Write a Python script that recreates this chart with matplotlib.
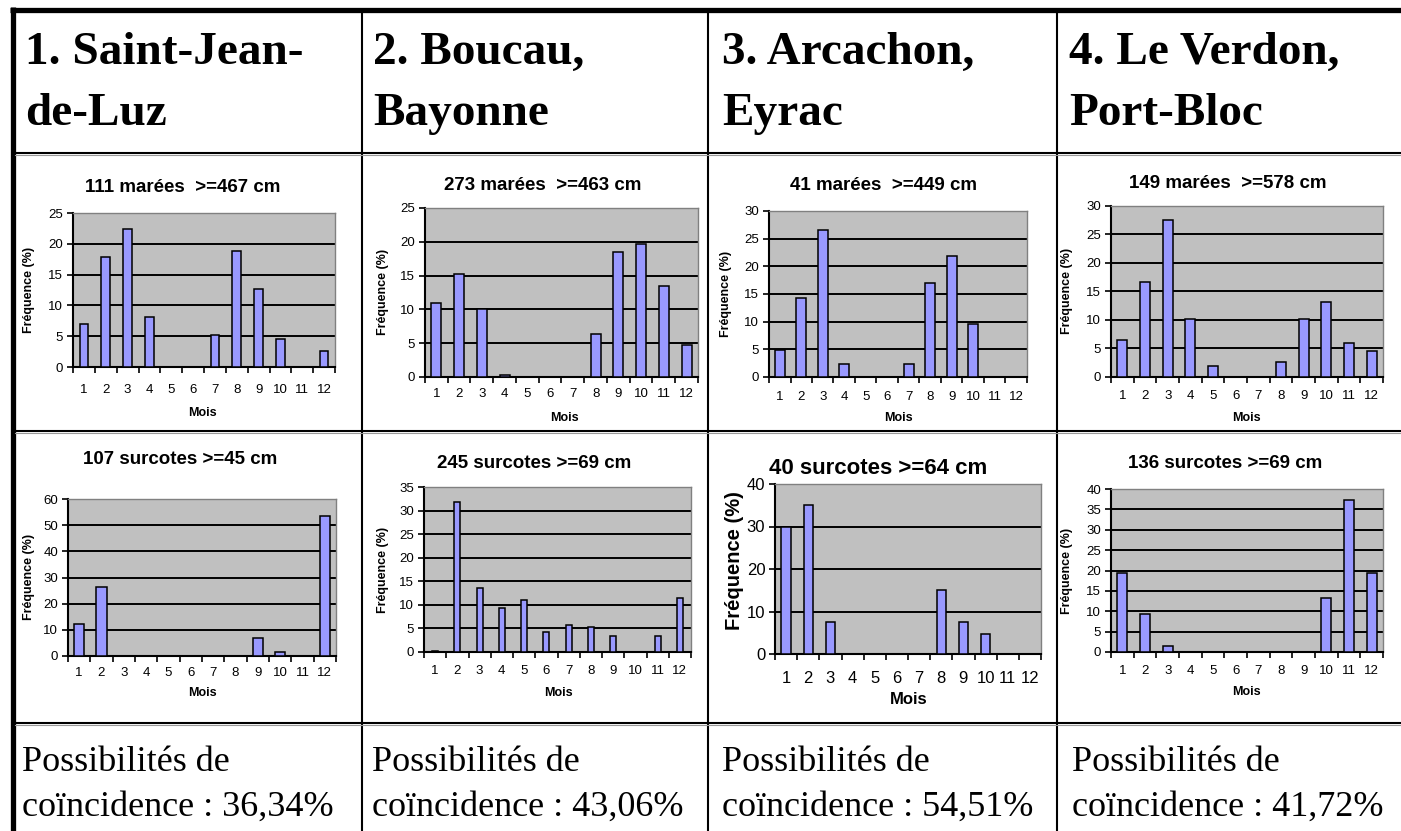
import matplotlib.pyplot as plt
from matplotlib.ticker import FixedLocator, NullFormatter
import numpy as np

W, H = 1401, 831

# ---- data ----
months = list(range(1, 13))

header_lines = [
    ["1. Saint-Jean-", "de-Luz"],
    ["2. Boucau,", "Bayonne"],
    ["3. Arcachon,", "Eyrac"],
    ["4. Le Verdon,", "Port-Bloc"],
]
coincidence = ["36,34%", "43,06%", "54,51%", "41,72%"]

maree_titles = ["111 marées  >=467 cm", "273 marées  >=463 cm",
                "41 marées  >=449 cm", "149 marées  >=578 cm"]
surcote_titles = ["107 surcotes >=45 cm", "245 surcotes >=69 cm",
                  "40 surcotes >=64 cm", "136 surcotes >=69 cm"]

maree_sjl = [7.0, 17.9, 22.4, 8.1, 0, 0, 5.2, 18.9, 12.6, 4.6, 0, 2.6]
maree_bou = [10.9, 15.3, 10.0, 0.3, 0, 0, 0, 6.4, 18.5, 19.7, 13.5, 4.7]
maree_arc = [4.9, 14.3, 26.6, 2.4, 0, 0, 2.4, 16.9, 21.9, 9.6, 0, 0]
maree_ver = [6.5, 16.7, 27.5, 10.1, 2.0, 0, 0, 2.7, 10.1, 13.2, 5.9, 4.5]

surc_sjl = [12.1, 26.2, 0, 0, 0, 0, 0, 0, 6.8, 1.5, 0, 53.5]
surc_bou = [0.3, 31.9, 13.6, 9.3, 11.0, 4.2, 5.8, 5.4, 3.3, 0, 3.3, 11.4]
surc_arc = [30.0, 35.0, 7.5, 0, 0, 0, 0, 15.0, 7.5, 4.8, 0, 0]
surc_ver = [19.3, 9.4, 1.5, 0, 0, 0, 0, 0, 0, 13.3, 37.4, 19.3]

series = [maree_sjl, maree_bou, maree_arc, maree_ver,
          surc_sjl, surc_bou, surc_arc, surc_ver]
titles = maree_titles + surcote_titles
y_max = [25, 25, 30, 30, 60, 35, 40, 40]
y_step = [5, 5, 5, 5, 10, 5, 10, 5]

# ---- layout (pixels) ----
# axes box: x0, x1, ytop, ybottom
boxes = [(73, 335, 213, 367), (425, 698, 208, 377), (769, 1027, 211, 377), (1111, 1383, 206, 377),
         (68, 336, 499, 656), (424, 691, 487, 652), (775, 1041, 484, 654), (1111, 1383, 489, 652)]
title_pos = [(183, 187), (543, 185), (884, 185), (1228, 184),
             (180, 460), (534, 464), (878, 468), (1225, 464)]
ylabel_pos = [(29, 290), (383, 292), (726, 294), (1067, 291),
              (29, 577), (383, 570), (735, 561), (1067, 571)]
xlabel_pos = [(202, 413), (564, 418), (898, 418), (1246, 418),
              (202, 693), (558, 693), (909, 700), (1246, 692)]
xtick_pad = [12, 8, 10, 9.5, 8, 9.5, 12, 9.5]
bar_width = [0.4, 0.45, 0.46, 0.43, 0.45, 0.26, 0.42, 0.43]
big = [False] * 6 + [True, False]

fig = plt.figure(figsize=(W / 100, H / 100), dpi=100)
fig.patch.set_facecolor("white")

# overlay in pixel coordinates for table lines and text
ov = fig.add_axes([0, 0, 1, 1])
ov.set_xlim(0, W)
ov.set_ylim(H, 0)
ov.axis("off")

# table borders
ov.plot([12.5, 12.5], [7, H], color="black", lw=3.8, solid_capstyle="butt")
ov.plot([10, W], [9.5, 9.5], color="black", lw=3.8, solid_capstyle="butt")
for x in [362, 708, 1057]:
    ov.plot([x, x], [12, H], color="black", lw=1.5)
for y in [153, 431, 723]:
    ov.plot([15, W], [y, y], color="black", lw=1.5)
    ov.plot([15, W], [y + 2, y + 2], color="#999999", lw=0.8)

serif = "Liberation Serif"
sans = "Liberation Sans"
col_x_head = [25, 373, 722, 1069]
col_x_foot = [22, 372, 722, 1072]
for i in range(4):
    ov.text(col_x_head[i], 64, header_lines[i][0], fontsize=34, fontweight="bold",
            family=serif, va="baseline", ha="left")
    ov.text(col_x_head[i], 125, header_lines[i][1], fontsize=34, fontweight="bold",
            family=serif, va="baseline", ha="left")
    ov.text(col_x_foot[i], 771, "Possibilités de", fontsize=26, family=serif,
            va="baseline", ha="left")
    ov.text(col_x_foot[i], 816, "coïncidence : " + coincidence[i], fontsize=26,
            family=serif, va="baseline", ha="left")

for k in range(8):
    x0, x1, yt, yb = boxes[k]
    ax = fig.add_axes([x0 / W, 1 - yb / H, (x1 - x0) / W, (yb - yt) / H])
    ax.set_facecolor("#C0C0C0")
    ticks = np.arange(0, y_max[k] + 0.1, y_step[k])
    for t in ticks[1:-1]:
        ax.axhline(t, color="black", lw=1.4, zorder=1)
    ax.bar(months, series[k], width=bar_width[k], color="#9999FF",
           edgecolor="black", linewidth=1.1, zorder=3)
    ax.set_xlim(0.5, 12.5)
    ax.set_ylim(0, y_max[k])
    ax.set_yticks(ticks)
    ax.set_yticklabels([str(int(t)) for t in ticks])

    ax.xaxis.set_major_locator(FixedLocator(np.arange(0.5, 12.6, 1)))
    ax.xaxis.set_major_formatter(NullFormatter())
    ax.xaxis.set_minor_locator(FixedLocator(months))
    ax.set_xticklabels([str(m) for m in months], minor=True)

    tfs = 12 if big[k] else 9.5
    ax.tick_params(axis="x", which="major", length=4, width=1.2, direction="out")
    ax.tick_params(axis="x", which="minor", length=0, pad=xtick_pad[k], labelsize=tfs)
    ax.tick_params(axis="y", length=4, width=1.2, direction="out", pad=3, labelsize=tfs)
    for lab in ax.get_xticklabels(minor=True) + ax.get_yticklabels():
        lab.set_family(sans)

    for s in ["left", "bottom"]:
        ax.spines[s].set_color("black")
        ax.spines[s].set_linewidth(1.5)
    for s in ["top", "right"]:
        ax.spines[s].set_color("#808080")
        ax.spines[s].set_linewidth(1.0)

    ax.set_ylabel("Fréquence (%)", fontsize=14.5 if big[k] else 9,
                  fontweight="bold", family=sans, va="center", ha="center")
    ax.yaxis.set_label_coords(*ylabel_pos[k], transform=ov.transData)
    ax.set_xlabel("Mois", fontsize=12 if big[k] else 9,
                  fontweight="bold", family=sans, va="center", ha="center")
    ax.xaxis.set_label_coords(*xlabel_pos[k], transform=ov.transData)

    ov.text(title_pos[k][0], title_pos[k][1], titles[k], fontsize=16 if big[k] else 13.5,
            fontweight="bold", family=sans, ha="center", va="center")

fig.savefig("out.png", dpi=100)
